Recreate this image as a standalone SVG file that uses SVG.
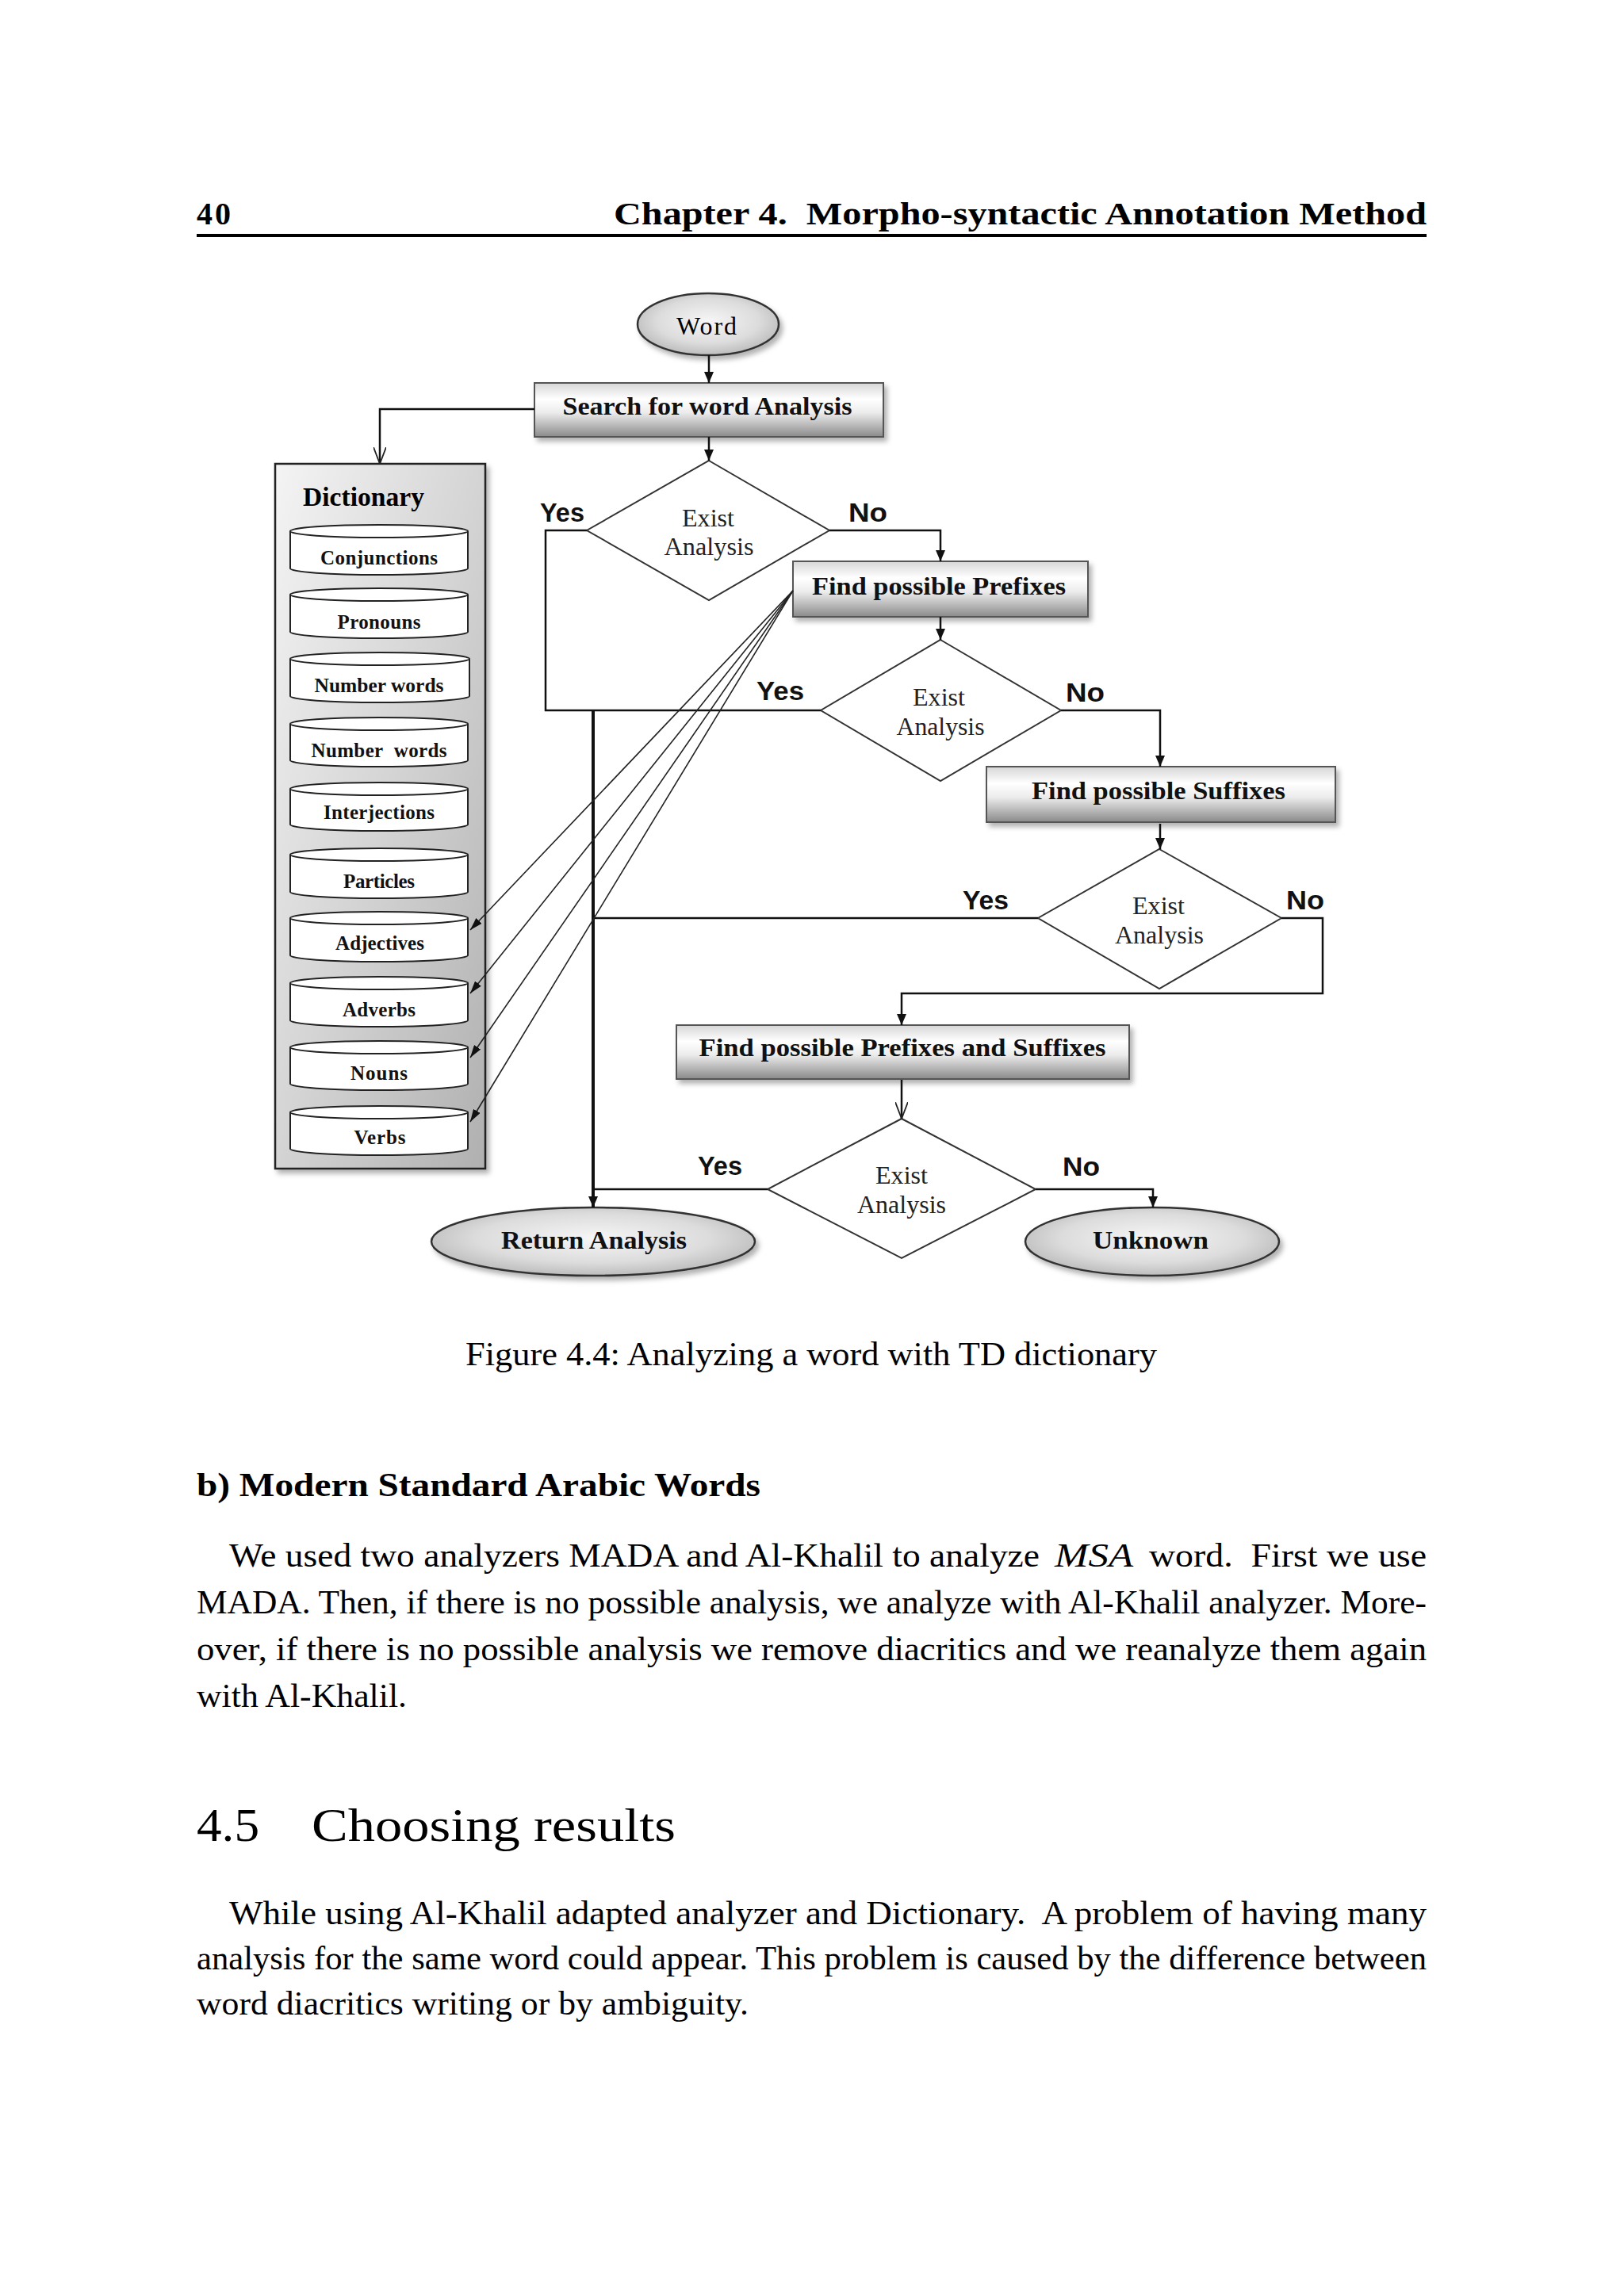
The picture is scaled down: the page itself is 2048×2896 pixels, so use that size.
<svg xmlns="http://www.w3.org/2000/svg" width="2048" height="2896" viewBox="0 0 2048 2896">
<defs>
<style>
.pg{font-family:"Liberation Serif","Times New Roman",serif;fill:#000}
.bx{font-family:"Liberation Serif","Times New Roman",serif;font-weight:bold;font-size:32px;fill:#111;text-anchor:middle}
.cy{font-family:"Liberation Serif","Times New Roman",serif;font-weight:bold;font-size:25px;fill:#111;text-anchor:middle}
.dt{font-family:"Liberation Serif","Times New Roman",serif;font-size:31px;fill:#222;text-anchor:middle}
.yn{font-family:"Liberation Sans",Arial,sans-serif;font-weight:bold;font-size:33px;fill:#111}
.ln{fill:none;stroke:#111;stroke-width:2.5}
.thin{fill:none;stroke:#222;stroke-width:1.6}
.cyl{fill:#fff;stroke:#222;stroke-width:2}
.box{fill:url(#gBox);stroke:#555;stroke-width:2}
.ell{fill:url(#gEll);stroke:#333;stroke-width:2.5}
.dia{fill:#fff;stroke:#333;stroke-width:2}
</style>
<linearGradient id="gBox" x1="0" y1="0" x2="0" y2="1">
<stop offset="0" stop-color="#d6d6d6"/>
<stop offset="0.3" stop-color="#ffffff"/>
<stop offset="0.55" stop-color="#ececec"/>
<stop offset="1" stop-color="#8a8a8a"/>
</linearGradient>
<radialGradient id="gEll" cx="0.5" cy="0.45" r="0.6">
<stop offset="0" stop-color="#f6f6f6"/>
<stop offset="0.6" stop-color="#dcdcdc"/>
<stop offset="1" stop-color="#b4b4b4"/>
</radialGradient>
<linearGradient id="gDict" x1="0" y1="0" x2="1" y2="1">
<stop offset="0" stop-color="#f4f4f4"/>
<stop offset="0.5" stop-color="#d4d4d4"/>
<stop offset="1" stop-color="#b0b0b0"/>
</linearGradient>
<filter id="sh" x="-10%" y="-10%" width="130%" height="140%">
<feDropShadow dx="4" dy="5" stdDeviation="3" flood-color="#000" flood-opacity="0.3"/>
</filter>
<marker id="arr" viewBox="0 0 14 12" refX="14" refY="6" markerWidth="14" markerHeight="12" markerUnits="userSpaceOnUse" orient="auto">
<path d="M0,0 L14,6 L0,12 Z" fill="#111"/>
</marker>
<marker id="arrs" viewBox="0 0 16 10" refX="16" refY="5" markerWidth="16" markerHeight="10" markerUnits="userSpaceOnUse" orient="auto">
<path d="M0,0 L16,5 L0,10 Z" fill="#111"/>
</marker>
<marker id="opn" viewBox="0 0 22 16" refX="21" refY="8" markerWidth="22" markerHeight="16" markerUnits="userSpaceOnUse" orient="auto">
<path d="M0,0 L21,8 L0,16" fill="none" stroke="#222" stroke-width="1.8"/>
</marker>
</defs>
<rect width="2048" height="2896" fill="#fff"/>

<g id="page-header">
<text class="pg" x="248" y="283" font-size="40" font-weight="bold" textLength="43">40</text>
<text class="pg" x="1799" y="283" font-size="40" font-weight="bold" text-anchor="end" textLength="1025" lengthAdjust="spacingAndGlyphs">Chapter 4.&#160; Morpho-syntactic Annotation Method</text>
<rect x="248" y="295" width="1551" height="4" fill="#000"/>
</g>

<g id="node-word">
<ellipse class="ell" cx="893" cy="409" rx="89" ry="39" filter="url(#sh)"/>
<text class="pg" x="891" y="422" font-size="32" text-anchor="middle" textLength="76">Word</text>
</g>

<g id="node-search">
<rect class="box" x="674" y="483" width="440" height="68" filter="url(#sh)"/>
<text class="bx" x="892" y="523" textLength="365" lengthAdjust="spacingAndGlyphs">Search for word Analysis</text>
</g>

<g id="node-dictionary">
<rect x="347" y="585" width="265" height="889" fill="url(#gDict)" stroke="#222" stroke-width="2.5" filter="url(#sh)"/>
<text class="pg" x="382" y="638" font-size="34" font-weight="bold" textLength="153" lengthAdjust="spacingAndGlyphs">Dictionary</text>
</g>

<g id="cyl-conjunctions">
<path class="cyl" d="M366,670 L366,717 A112,8 0 0 0 590,717 L590,670"/>
<ellipse class="cyl" cx="478" cy="670" rx="112" ry="8"/>
<text class="cy" x="478" y="712" textLength="148">Conjunctions</text>
</g>
<g id="cyl-pronouns">
<path class="cyl" d="M366,750 L366,797 A112,8 0 0 0 590,797 L590,750"/>
<ellipse class="cyl" cx="478" cy="750" rx="112" ry="8"/>
<text class="cy" x="478" y="793" textLength="105">Pronouns</text>
</g>
<g id="cyl-numberwords1">
<path class="cyl" d="M366,831 L366,878 A113,8 0 0 0 592,878 L592,831"/>
<ellipse class="cyl" cx="479" cy="831" rx="113" ry="8"/>
<text class="cy" x="478" y="873" textLength="163" lengthAdjust="spacingAndGlyphs">Number words</text>
</g>
<g id="cyl-numberwords2">
<path class="cyl" d="M366,913 L366,959 A112,8 0 0 0 590,959 L590,913"/>
<ellipse class="cyl" cx="478" cy="913" rx="112" ry="8"/>
<text class="cy" x="478" y="955" textLength="171">Number&#160; words</text>
</g>
<g id="cyl-interjections">
<path class="cyl" d="M366,995 L366,1040 A112,8 0 0 0 590,1040 L590,995"/>
<ellipse class="cyl" cx="478" cy="995" rx="112" ry="8"/>
<text class="cy" x="478" y="1033" textLength="140">Interjections</text>
</g>
<g id="cyl-particles">
<path class="cyl" d="M366,1078 L366,1125 A112,8 0 0 0 590,1125 L590,1078"/>
<ellipse class="cyl" cx="478" cy="1078" rx="112" ry="8"/>
<text class="cy" x="478" y="1120" textLength="90">Particles</text>
</g>
<g id="cyl-adjectives">
<path class="cyl" d="M366,1158 L366,1205 A112,8 0 0 0 590,1205 L590,1158"/>
<ellipse class="cyl" cx="478" cy="1158" rx="112" ry="8"/>
<text class="cy" x="479" y="1198" textLength="112">Adjectives</text>
</g>
<g id="cyl-adverbs">
<path class="cyl" d="M366,1240 L366,1287 A112,8 0 0 0 590,1287 L590,1240"/>
<ellipse class="cyl" cx="478" cy="1240" rx="112" ry="8"/>
<text class="cy" x="478" y="1282" textLength="92">Adverbs</text>
</g>
<g id="cyl-nouns">
<path class="cyl" d="M366,1321 L366,1367 A112,8 0 0 0 590,1367 L590,1321"/>
<ellipse class="cyl" cx="478" cy="1321" rx="112" ry="8"/>
<text class="cy" x="478" y="1362" textLength="72">Nouns</text>
</g>
<g id="cyl-verbs">
<path class="cyl" d="M366,1403 L366,1449 A112,8 0 0 0 590,1449 L590,1403"/>
<ellipse class="cyl" cx="478" cy="1403" rx="112" ry="8"/>
<text class="cy" x="479" y="1443" textLength="65">Verbs</text>
</g>

<g id="node-decision1">
<polygon class="dia" points="894,581 1046,669 894,757 740,669"/>
<text class="dt" x="893" y="664" textLength="66" lengthAdjust="spacingAndGlyphs">Exist</text>
<text class="dt" x="894" y="700" textLength="113" lengthAdjust="spacingAndGlyphs">Analysis</text>
<text class="yn" x="681" y="658" textLength="56" lengthAdjust="spacingAndGlyphs">Yes</text>
<text class="yn" x="1070" y="658" textLength="49" lengthAdjust="spacingAndGlyphs">No</text>
</g>

<g id="node-prefixes">
<rect class="box" x="1000" y="708" width="372" height="70" filter="url(#sh)"/>
<text class="bx" x="1184" y="750" textLength="320" lengthAdjust="spacingAndGlyphs">Find possible Prefixes</text>
</g>

<g id="node-decision2">
<polygon class="dia" points="1186,807 1338,896 1186,985 1035,896"/>
<text class="dt" x="1184" y="890" textLength="66" lengthAdjust="spacingAndGlyphs">Exist</text>
<text class="dt" x="1186" y="927" textLength="111" lengthAdjust="spacingAndGlyphs">Analysis</text>
<text class="yn" x="954" y="883" textLength="60" lengthAdjust="spacingAndGlyphs">Yes</text>
<text class="yn" x="1344" y="885" textLength="49" lengthAdjust="spacingAndGlyphs">No</text>
</g>

<g id="node-suffixes">
<rect class="box" x="1244" y="967" width="440" height="70" filter="url(#sh)"/>
<text class="bx" x="1461" y="1008" textLength="320" lengthAdjust="spacingAndGlyphs">Find possible Suffixes</text>
</g>

<g id="node-decision3">
<polygon class="dia" points="1462,1071 1616,1158 1462,1247 1309,1158"/>
<text class="dt" x="1461" y="1153" textLength="66" lengthAdjust="spacingAndGlyphs">Exist</text>
<text class="dt" x="1462" y="1190" textLength="112" lengthAdjust="spacingAndGlyphs">Analysis</text>
<text class="yn" x="1214" y="1147" textLength="58" lengthAdjust="spacingAndGlyphs">Yes</text>
<text class="yn" x="1622" y="1147" textLength="48" lengthAdjust="spacingAndGlyphs">No</text>
</g>

<g id="node-prefsuff">
<rect class="box" x="853" y="1293" width="571" height="68" filter="url(#sh)"/>
<text class="bx" x="1138" y="1332" textLength="513" lengthAdjust="spacingAndGlyphs">Find possible Prefixes and Suffixes</text>
</g>

<g id="node-decision4">
<polygon class="dia" points="1137,1411 1306,1500 1137,1587 968,1500"/>
<text class="dt" x="1137" y="1493" textLength="66" lengthAdjust="spacingAndGlyphs">Exist</text>
<text class="dt" x="1137" y="1530" textLength="112" lengthAdjust="spacingAndGlyphs">Analysis</text>
<text class="yn" x="880" y="1482" textLength="56" lengthAdjust="spacingAndGlyphs">Yes</text>
<text class="yn" x="1340" y="1483" textLength="47" lengthAdjust="spacingAndGlyphs">No</text>
</g>

<g id="node-return">
<ellipse class="ell" cx="748" cy="1566" rx="204" ry="43" filter="url(#sh)"/>
<text class="bx" x="749" y="1575" textLength="234" lengthAdjust="spacingAndGlyphs">Return Analysis</text>
</g>

<g id="node-unknown">
<ellipse class="ell" cx="1453" cy="1566" rx="160" ry="43" filter="url(#sh)"/>
<text class="bx" x="1451" y="1575" textLength="146" lengthAdjust="spacingAndGlyphs">Unknown</text>
</g>

<g id="connectors">
<path class="ln" d="M894,448 L894,483" marker-end="url(#arr)"/>
<path class="ln" d="M894,551 L894,581" marker-end="url(#arr)"/>
<path class="ln" d="M674,516 L479,516 L479,585" marker-end="url(#opn)"/>
<path class="ln" d="M1046,669 L1186,669 L1186,708" marker-end="url(#arr)"/>
<path class="ln" d="M740,669 L688,669 L688,896 L1035,896"/>
<path class="ln" d="M1186,778 L1186,807" marker-end="url(#arr)"/>
<path class="ln" d="M1338,896 L1463,896 L1463,967" marker-end="url(#arr)"/>
<path class="ln" d="M1463,1039 L1463,1071" marker-end="url(#arr)"/>
<path class="ln" d="M1309,1158 L748,1158"/>
<path class="ln" d="M1616,1158 L1668,1158 L1668,1253 L1137,1253 L1137,1293" marker-end="url(#arr)"/>
<path class="ln" d="M1137,1362 L1137,1411" marker-end="url(#opn)"/>
<path class="ln" d="M968,1500 L748,1500"/>
<path fill="none" stroke="#111" stroke-width="4" d="M748,896 L748,1523" marker-end="url(#arr)"/>
<path class="ln" d="M1306,1500 L1454,1500 L1454,1523" marker-end="url(#arr)"/>
<path class="thin" d="M1000,745 L593,1173" marker-end="url(#arrs)"/>
<path class="thin" d="M1000,745 L593,1253" marker-end="url(#arrs)"/>
<path class="thin" d="M1000,745 L593,1334" marker-end="url(#arrs)"/>
<path class="thin" d="M1000,745 L593,1415" marker-end="url(#arrs)"/>
</g>

<g id="page-text">
<text class="pg" x="587" y="1722" font-size="43" textLength="872" lengthAdjust="spacingAndGlyphs">Figure 4.4: Analyzing a word with TD dictionary</text>
<text class="pg" x="248" y="1887" font-size="42" font-weight="bold" textLength="711" lengthAdjust="spacingAndGlyphs">b) Modern Standard Arabic Words</text>
<text class="pg" x="289" y="1976" font-size="43" textLength="1022" lengthAdjust="spacingAndGlyphs">We used two analyzers MADA and Al-Khalil to analyze</text>
<text class="pg" x="1330" y="1976" font-size="43" font-style="italic" textLength="99" lengthAdjust="spacingAndGlyphs">MSA</text>
<text class="pg" x="1449" y="1976" font-size="43" textLength="350" lengthAdjust="spacingAndGlyphs">word.&#160; First we use</text>
<text class="pg" x="248" y="2035" font-size="43" textLength="1551" lengthAdjust="spacingAndGlyphs">MADA. Then, if there is no possible analysis, we analyze with Al-Khalil analyzer. More-</text>
<text class="pg" x="248" y="2094" font-size="43" textLength="1551" lengthAdjust="spacingAndGlyphs">over, if there is no possible analysis we remove diacritics and we reanalyze them again</text>
<text class="pg" x="248" y="2153" font-size="43" textLength="265" lengthAdjust="spacingAndGlyphs">with Al-Khalil.</text>
<text class="pg" x="248" y="2322" font-size="60" textLength="79" lengthAdjust="spacingAndGlyphs">4.5</text>
<text class="pg" x="393" y="2322" font-size="60" textLength="459" lengthAdjust="spacingAndGlyphs">Choosing results</text>
<text class="pg" x="289" y="2427" font-size="43" textLength="1510" lengthAdjust="spacingAndGlyphs">While using Al-Khalil adapted analyzer and Dictionary.&#160; A problem of having many</text>
<text class="pg" x="248" y="2484" font-size="43" textLength="1551" lengthAdjust="spacingAndGlyphs">analysis for the same word could appear. This problem is caused by the difference between</text>
<text class="pg" x="248" y="2541" font-size="43" textLength="696" lengthAdjust="spacingAndGlyphs">word diacritics writing or by ambiguity.</text>
</g>
</svg>
